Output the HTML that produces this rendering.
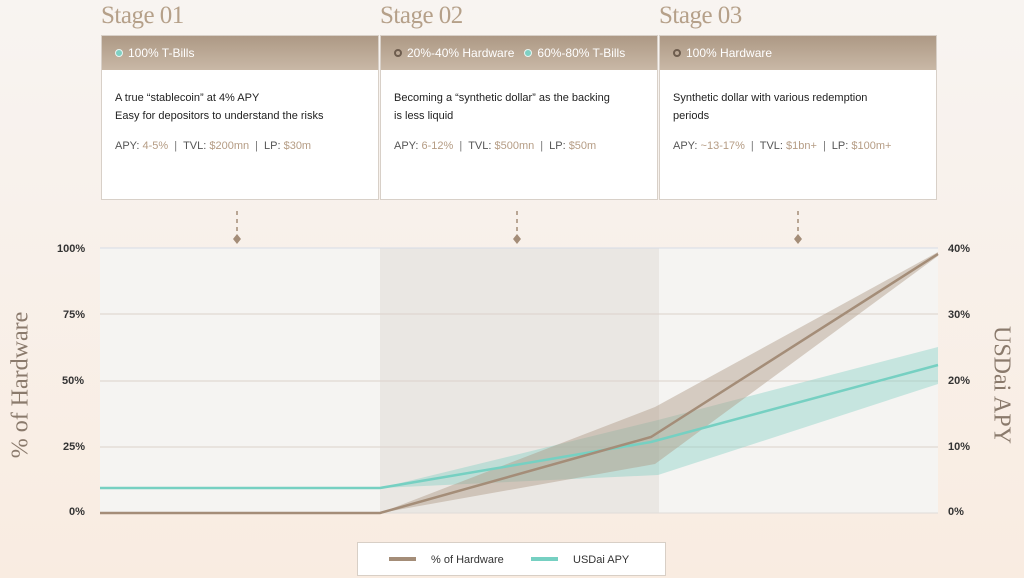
<!DOCTYPE html>
<html><head><meta charset="utf-8"><style>
*{margin:0;padding:0;box-sizing:border-box}
body{width:1024px;height:578px;overflow:hidden;position:relative;background:linear-gradient(#f8f4f1,#f9ece1);font-family:"Liberation Sans",sans-serif}
.st{position:absolute;top:2px;font-family:"Liberation Serif",serif;font-size:25px;color:#b5a089;letter-spacing:-0.5px}
.card{position:absolute;top:35px;width:278px;height:165px;background:#fff;border:1px solid #d8d0c8}
.hd{height:34px;background:linear-gradient(#ad9985,#c9b8a6);color:#fff;font-size:12px;padding:10px 0 0 13px;white-space:nowrap}
.dot{display:inline-block;width:8px;height:8px;border-radius:50%;margin-right:5px;vertical-align:-0px}
.t{background:#7fd0c3;border:1px solid #e8f5f2}
.h{border:2px solid #6e5d4e}
.bd{padding:19px 0 0 13px;font-size:11px;color:#222;line-height:18px}
.m{margin-top:12px;color:#555}
.m span{color:#b59c84}
.m b{font-weight:normal;color:#777;margin:0 6px}
.yl{position:absolute;font-size:11px;font-weight:bold;color:#333}
</style></head><body>
<div class="st" style="left:101px">Stage 01</div>
<div class="st" style="left:380px">Stage 02</div>
<div class="st" style="left:659px">Stage 03</div>
<div class="card" style="left:101px"><div class="hd"><span class="dot t"></span>100% T-Bills</div>
<div class="bd">A true “stablecoin” at 4% APY<br>Easy for depositors to understand the risks<div class="m">APY: <span>4-5%</span><b>|</b>TVL: <span>$200mn</span><b>|</b>LP: <span>$30m</span></div></div></div>
<div class="card" style="left:380px"><div class="hd"><span class="dot h"></span>20%-40% Hardware &nbsp;&nbsp;<span class="dot t"></span>60%-80% T-Bills</div>
<div class="bd">Becoming a “synthetic dollar” as the backing<br>is less liquid<div class="m">APY: <span>6-12%</span><b>|</b>TVL: <span>$500mn</span><b>|</b>LP: <span>$50m</span></div></div></div>
<div class="card" style="left:659px"><div class="hd"><span class="dot h"></span>100% Hardware</div>
<div class="bd">Synthetic dollar with various redemption<br>periods<div class="m">APY: <span>~13-17%</span><b>|</b>TVL: <span>$1bn+</span><b>|</b>LP: <span>$100m+</span></div></div></div>
<svg width="1024" height="578" style="position:absolute;left:0;top:0">
<g stroke="#a48d78" stroke-width="1.5" stroke-dasharray="4,4"><line x1="237" y1="211" x2="237" y2="234"/><line x1="517" y1="211" x2="517" y2="234"/><line x1="798" y1="211" x2="798" y2="234"/></g>
<g fill="#a48d78"><path d="M237 234l4 5-4 5-4-5z"/><path d="M517 234l4 5-4 5-4-5z"/><path d="M798 234l4 5-4 5-4-5z"/></g>
<rect x="100" y="248" width="838" height="265" fill="#f5f4f2"/>
<rect x="380" y="248" width="279" height="265" fill="#eae7e3"/>
<line x1="100" y1="248" x2="938" y2="248" stroke="#d6dbe6"/>
<g stroke="#dcd2cb"><line x1="100" y1="314" x2="938" y2="314"/><line x1="100" y1="381" x2="938" y2="381"/><line x1="100" y1="447" x2="938" y2="447"/></g>
<line x1="100" y1="513" x2="938" y2="513" stroke="#e0dcd8"/>
<path d="M380 488L658 420L938 347L938 384L658 475Z" fill="#7fd0c3" fill-opacity="0.4"/>
<path d="M380 513L655 407L938 252L938 256L655 464Z" fill="#b09a86" fill-opacity="0.45"/>
<polyline points="100,488 380,488 651,442 938,365" fill="none" stroke="#76d0c2" stroke-width="2.5"/>
<polyline points="100,513 380,513 651,437 938,254" fill="none" stroke="#a48d78" stroke-width="2.5"/>
<text x="22" y="385" transform="rotate(-90 22 385)" text-anchor="middle" dominant-baseline="middle" font-family="Liberation Serif,serif" font-size="24" fill="#8a7a6c">% of Hardware</text>
<text x="1000" y="385" transform="rotate(90 1000 385)" text-anchor="middle" dominant-baseline="middle" font-family="Liberation Serif,serif" font-size="24" fill="#8a7a6c">USDai APY</text>
<rect x="357.5" y="542.5" width="308" height="33" fill="#fff" stroke="#d8cfc6"/>
<line x1="389" y1="559" x2="416" y2="559" stroke="#a48d78" stroke-width="4"/>
<line x1="531" y1="559" x2="558" y2="559" stroke="#76d0c2" stroke-width="4"/>
<text x="431" y="563" font-size="11" fill="#333" font-family="Liberation Sans,sans-serif">% of Hardware</text>
<text x="573" y="563" font-size="11" fill="#333" font-family="Liberation Sans,sans-serif">USDai APY</text>
</svg>
<div class="yl" style="left:57px;top:243px">100%</div>
<div class="yl" style="left:63px;top:309px">75%</div>
<div class="yl" style="left:62px;top:375px">50%</div>
<div class="yl" style="left:63px;top:441px">25%</div>
<div class="yl" style="left:69px;top:506px">0%</div>
<div class="yl" style="left:948px;top:243px">40%</div>
<div class="yl" style="left:948px;top:309px">30%</div>
<div class="yl" style="left:948px;top:375px">20%</div>
<div class="yl" style="left:948px;top:441px">10%</div>
<div class="yl" style="left:948px;top:506px">0%</div>
</body></html>
